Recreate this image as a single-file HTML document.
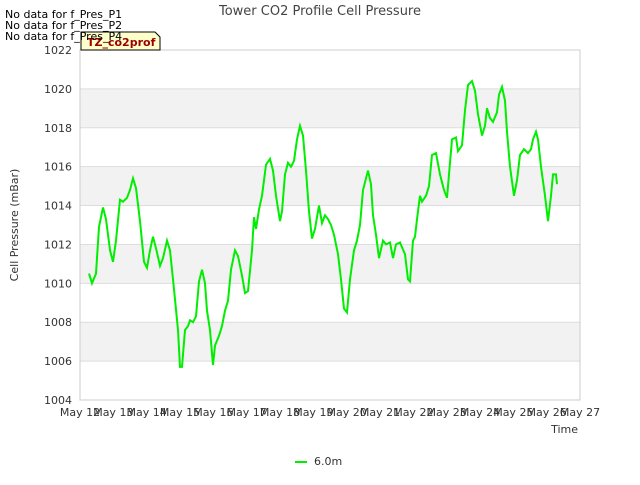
<!DOCTYPE html>
<html><head><meta charset="utf-8"><style>
body{margin:0;background:#fff;font-family:"Liberation Sans","DejaVu Sans",sans-serif}
svg text{font-family:"DejaVu Sans","Liberation Sans",sans-serif}
</style></head><body>
<svg id="c" width="640" height="480">
<rect x="0" y="0" width="640" height="480" fill="#fff"/>
<g id="bands"></g><g id="grid"></g>
<rect x="80" y="50" width="500" height="350" fill="none" stroke="#ccc"/>
<g id="ticks" font-size="11" fill="#333"></g>
<polyline id="line" fill="none" stroke="#00ee00" stroke-width="2"/>
<text x="320" y="15" text-anchor="middle" font-size="13" fill="#444">Tower CO2 Profile Cell Pressure</text>
<text x="18" y="225" transform="rotate(-90 18 225)" text-anchor="middle" font-size="11" fill="#333">Cell Pressure (mBar)</text>
<text x="578" y="433" text-anchor="end" font-size="11" fill="#333">Time</text>
<g>
<path d="M81,32 H155 L160,37 V50 H81 Z" fill="#ffffcc" stroke="#000"/>
<text x="87" y="46" font-size="11" font-weight="bold" fill="#990000">TZ_co2prof</text></g>
<text x="5" y="18" font-size="11" fill="#000">No data for f_Pres_P1</text>
<text x="5" y="29" font-size="11" fill="#000">No data for f_Pres_P2</text>
<text x="5" y="40" font-size="11" fill="#000">No data for f_Pres_P4</text>
<g>
<line x1="295" y1="462" x2="307" y2="462" stroke="#00ee00" stroke-width="2"/>
<text x="314" y="465" font-size="11" fill="#333">6.0m</text></g>
</svg>
<script>
const yTicks=[1004,1006,1008,1010,1012,1014,1016,1018,1020,1022];
const xLabels=["May 12","May 13","May 14","May 15","May 16","May 17","May 18","May 19","May 20","May 21","May 22","May 23","May 24","May 25","May 26","May 27"];
const px=[89,92,96,99,103,106,110,113,116,120,123,127,130,133,136,140,144,147,150,153,156,160,163,167,170,174,178,180,182,185,188,190,193,196,199,202,205,207,210,213,215,219,222,225,228,231,235,238,242,245,248,252,254,256,259,262,266,270,273,276,280,282,285,288,291,294,297,300,303,306,309,312,315,319,322,325,328,331,334,338,341,344,347,350,354,357,360,363,368,371,373,376,379,383,386,390,393,396,400,405,408,410,413,415,417,420,422,426,429,432,436,440,444,447,449,452,456,458,462,465,468,472,475,478,482,485,487,490,493,497,499,502,505,507,510,514,517,520,524,528,531,533,536,538,541,545,548,551,553,556,557];
const days=px.map(p=>(p-80)/33.333);
const values=[1010.5,1010.0,1010.5,1012.9,1013.9,1013.3,1011.7,1011.1,1012.2,1014.3,1014.2,1014.4,1014.8,1015.4,1014.9,1013.2,1011.1,1010.8,1011.7,1012.4,1011.8,1010.9,1011.3,1012.2,1011.7,1009.7,1007.6,1005.7,1005.7,1007.6,1007.8,1008.1,1008.0,1008.3,1010.1,1010.7,1010.0,1008.6,1007.6,1005.8,1006.8,1007.3,1007.8,1008.6,1009.1,1010.7,1011.7,1011.4,1010.4,1009.5,1009.6,1011.7,1013.4,1012.8,1013.8,1014.5,1016.1,1016.4,1015.8,1014.5,1013.2,1013.7,1015.6,1016.2,1016.0,1016.3,1017.4,1018.1,1017.6,1015.8,1013.7,1012.3,1012.8,1014.0,1013.1,1013.5,1013.3,1013.0,1012.5,1011.5,1010.2,1008.7,1008.5,1010.2,1011.7,1012.2,1013.0,1014.8,1015.8,1015.1,1013.5,1012.5,1011.3,1012.2,1012.0,1012.1,1011.3,1012.0,1012.1,1011.5,1010.2,1010.1,1012.2,1012.4,1013.3,1014.5,1014.2,1014.5,1015.0,1016.6,1016.7,1015.6,1014.8,1014.4,1015.6,1017.4,1017.5,1016.8,1017.1,1018.9,1020.2,1020.4,1019.9,1018.7,1017.6,1018.1,1019.0,1018.5,1018.3,1018.8,1019.7,1020.1,1019.4,1017.8,1016.0,1014.5,1015.3,1016.6,1016.9,1016.7,1016.9,1017.4,1017.8,1017.4,1016.0,1014.5,1013.2,1014.5,1015.6,1015.6,1015.1];
const X=d=>80+d*500/15, Y=v=>400-(v-1004)*350/18;
const NS='http://www.w3.org/2000/svg';
const bands=document.getElementById('bands'),grid=document.getElementById('grid'),ticks=document.getElementById('ticks');
for(let i=0;i<yTicks.length-1;i+=2){
 const r=document.createElementNS(NS,'rect');
 r.setAttribute('x',80);r.setAttribute('width',500);
 r.setAttribute('y',Y(yTicks[i+2]||1022));r.setAttribute('height',Y(yTicks[i+1])-Y(yTicks[i+2]||1022));
 r.setAttribute('fill','#f2f2f2');
 
 
 if(yTicks[i+2]) bands.appendChild(r);
}
yTicks.forEach(v=>{
 const l=document.createElementNS(NS,'line');
 l.setAttribute('x1',80);l.setAttribute('x2',580);l.setAttribute('y1',Y(v));l.setAttribute('y2',Y(v));l.setAttribute('stroke','#ddd');
 
 
 grid.appendChild(l);
 const t=document.createElementNS(NS,'text');
 t.setAttribute('x',72);t.setAttribute('y',Y(v)+4);t.setAttribute('text-anchor','end');t.textContent=v;
 
 
 ticks.appendChild(t);
});
xLabels.forEach((s,i)=>{
 const t=document.createElementNS(NS,'text');
 t.setAttribute('x',X(i));t.setAttribute('y',416);t.setAttribute('text-anchor','middle');t.textContent=s;
 
 
 ticks.appendChild(t);
});
document.getElementById('line').setAttribute('points',days.map((d,i)=>X(d).toFixed(1)+','+Y(values[i]).toFixed(1)).join(' '));
</script>
</body></html>
